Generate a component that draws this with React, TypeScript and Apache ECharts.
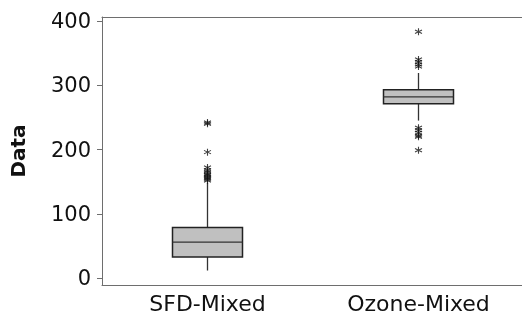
import React, { useEffect, useRef } from "react";
import * as echarts from "echarts";

const categories = ["SFD-Mixed", "Ozone-Mixed"];
// [lowerWhisker, Q1, median, Q3, upperWhisker]
const boxStats = [
  [12, 33, 56, 79, 148],
  [245, 271, 282, 293, 319],
];
const sfdOutliers = [152, 154, 156, 158, 160, 162, 165, 168, 172, 196, 240, 242];
const ozoneOutliers = [383, 340, 336, 332, 329, 234, 230, 226, 222, 220, 199];
const yTicks = [0, 100, 200, 300, 400];

const asterisk =
  "path://M5 0L5 10M0.7 2.5L9.3 7.5M0.7 7.5L9.3 2.5";

export default function App() {
  const ref = useRef<HTMLDivElement>(null);
  useEffect(() => {
    if (!ref.current) return;
    const chart = echarts.init(ref.current, null, { renderer: "svg" });
    const outlierData: number[][] = [];
    sfdOutliers.forEach((v) => outlierData.push([0, v]));
    ozoneOutliers.forEach((v) => outlierData.push([1, v]));
    chart.setOption({
      animation: false,
      grid: {
        left: 102,
        top: 17,
        right: -2,
        bottom: 35,
        outerBoundsMode: "none",
        containLabel: false,
        show: false,
      },
      xAxis: [
        {
          type: "category",
          data: categories,
          boundaryGap: true,
          axisLine: { onZero: false, lineStyle: { color: "#6e6e6e", width: 1 } },
          axisTick: { alignWithLabel: true, length: 5, lineStyle: { color: "#6e6e6e" } },
          axisLabel: {
            color: "#111",
            fontFamily: "DejaVu Sans",
            fontSize: 22,
            margin: 7,
          },
          splitLine: { show: false },
        },
        {
          type: "category",
          data: categories,
          position: "top",
          axisLine: { show: true, onZero: false, lineStyle: { color: "#6e6e6e", width: 1 } },
          axisTick: { show: false },
          axisLabel: { show: false },
          splitLine: { show: false },
        },
      ],
      yAxis: {
        type: "value",
        min: -10.5,
        max: 406,
        name: "Data",
        nameLocation: "middle",
        nameGap: 74,
        nameTextStyle: {
          fontFamily: "DejaVu Sans",
          fontWeight: "bold",
          fontSize: 20,
          color: "#111",
        },
        axisLine: { show: true, lineStyle: { color: "#6e6e6e", width: 1 } },
        axisTick: {
          show: true,
          length: 5,
          customValues: yTicks,
          lineStyle: { color: "#6e6e6e" },
        },
        axisLabel: {
          customValues: yTicks,
          color: "#111",
          fontFamily: "DejaVu Sans",
          fontSize: 21,
          margin: 11,
        },
        splitLine: { show: false },
      },
      series: [
        {
          type: "custom",
          data: boxStats.map((s, i) => [i, ...s]),
          renderItem: (params: any, api: any) => {
            const x = api.value(0);
            const low = api.coord([x, api.value(1)]);
            const q1 = api.coord([x, api.value(2)]);
            const med = api.coord([x, api.value(3)]);
            const q3 = api.coord([x, api.value(4)]);
            const high = api.coord([x, api.value(5)]);
            const hw = 35;
            const cx = low[0];
            const lineStyle = { stroke: "#333", lineWidth: 1.3 };
            return {
              type: "group",
              children: [
                {
                  type: "line",
                  shape: { x1: cx, y1: q3[1], x2: cx, y2: high[1] },
                  style: lineStyle,
                },
                {
                  type: "line",
                  shape: { x1: cx, y1: q1[1], x2: cx, y2: low[1] },
                  style: lineStyle,
                },
                {
                  type: "rect",
                  shape: { x: cx - hw, y: q3[1], width: hw * 2, height: q1[1] - q3[1] },
                  style: { fill: "#c0c0c0", stroke: "#222", lineWidth: 1.5 },
                },
                {
                  type: "line",
                  shape: { x1: cx - hw, y1: med[1], x2: cx + hw, y2: med[1] },
                  style: lineStyle,
                },
              ],
            };
          },
        },
        {
          type: "scatter",
          data: outlierData,
          symbol: asterisk,
          symbolSize: 7,
          itemStyle: { color: "none", borderColor: "#111", borderWidth: 1.1 },
        },
      ],
    });
    return () => chart.dispose();
  }, []);
  return (
    <div
      ref={ref}
      style={{ width: 522, height: 320, position: "fixed", left: 0, top: 0 }}
    />
  );
}
